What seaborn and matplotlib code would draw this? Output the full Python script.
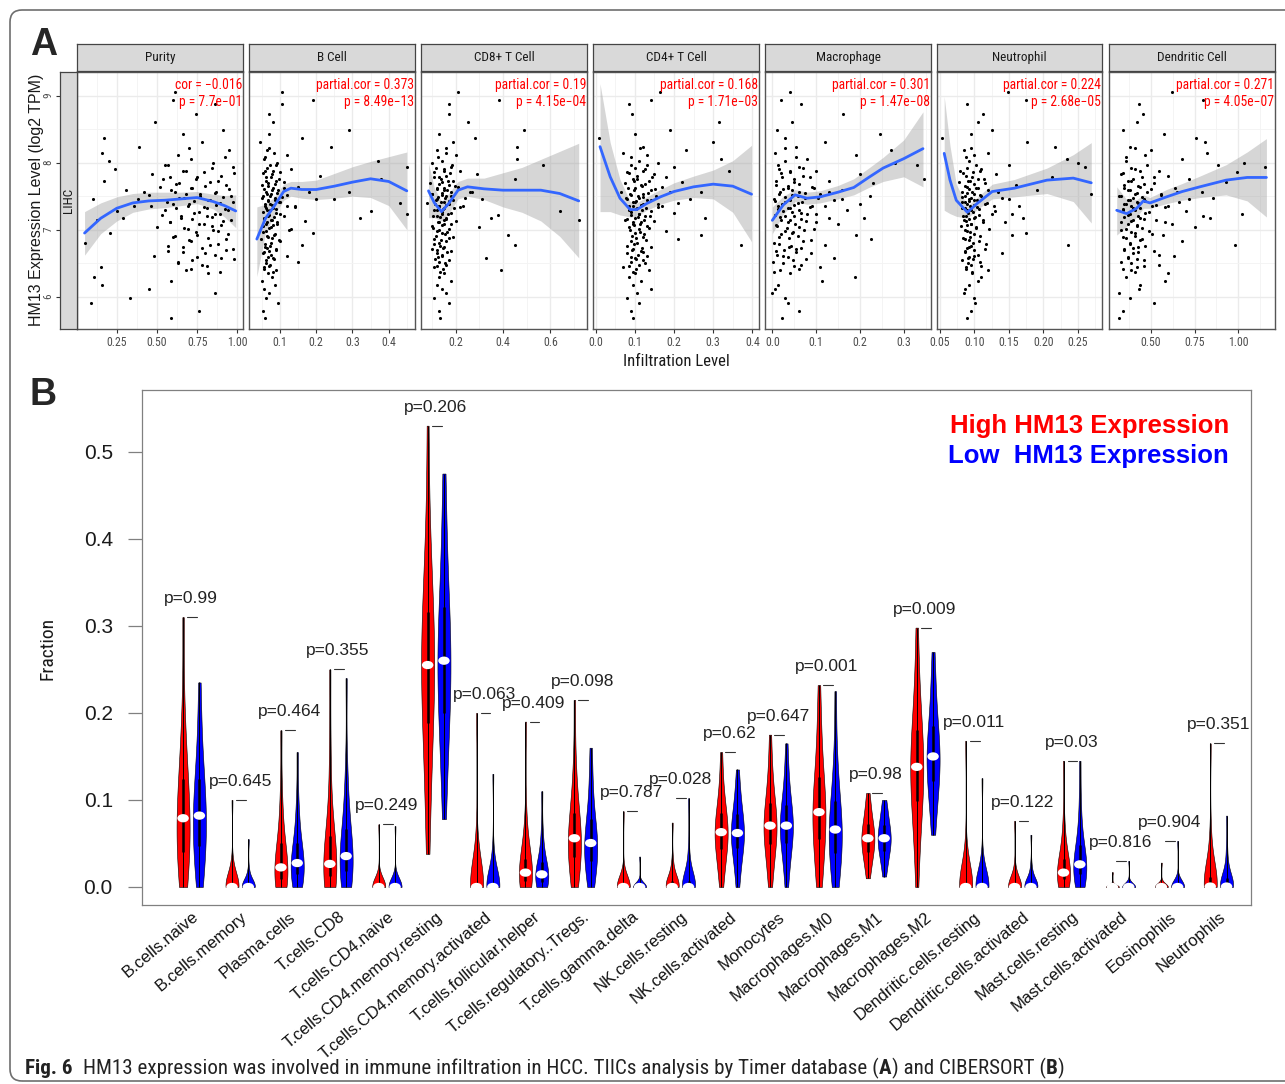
import os
import numpy as np
import pandas as pd
import matplotlib
matplotlib.use("Agg")
import matplotlib.pyplot as plt
import seaborn as sns
from matplotlib import font_manager, transforms, ticker
from matplotlib.patches import Ellipse, FancyBboxPatch

# ---------------- panel A data (TIMER) ----------------
facet_names = ["Purity", "B Cell", "CD8+ T Cell", "CD4+ T Cell",
               "Macrophage", "Neutrophil", "Dendritic Cell"]
cor_text = [("cor = \u22120.016", "p = 7.7e\u221201"),
            ("partial.cor = 0.373", "p = 8.49e\u221213"),
            ("partial.cor = 0.19", "p = 4.15e\u221204"),
            ("partial.cor = 0.168", "p = 1.71e\u221203"),
            ("partial.cor = 0.301", "p = 1.47e\u221208"),
            ("partial.cor = 0.224", "p = 2.68e\u221205"),
            ("partial.cor = 0.271", "p = 4.05e\u221207")]

# HM13 expression (log2 TPM), the same samples in every facet
y_expr = [9.05, 8.93, 8.88, 8.72, 8.61, 8.49, 8.43, 8.37, 8.31, 8.24,
          8.19, 8.14, 8.11, 8.06, 8.02, 7.99, 7.96, 7.93, 7.91, 7.88,
          7.86, 7.83, 7.80, 7.78, 7.76, 7.73, 7.71, 7.69, 7.66, 7.64,
          7.62, 7.60, 7.57, 7.56, 7.54, 7.52, 7.50, 7.48, 7.46, 7.44,
          7.42, 7.40, 7.38, 7.36, 7.34, 7.32, 7.30, 7.28, 7.25, 7.24,
          7.22, 7.20, 7.17, 7.15, 7.13, 7.11, 7.08, 7.06, 7.04, 7.01,
          6.98, 6.95, 6.92, 6.89, 6.86, 6.83, 6.80, 6.77, 6.74, 6.71,
          6.68, 6.65, 6.61, 6.58, 6.55, 6.52, 6.48, 6.44, 6.40, 6.35,
          6.30, 6.24, 6.18, 6.12, 6.05, 5.98, 5.90, 5.78, 5.68,
          8.22, 8.08, 7.97, 7.92, 7.87, 7.84, 7.79, 7.75, 7.72, 7.68,
          7.65, 7.63, 7.61, 7.59, 7.55, 7.53, 7.51, 7.49, 7.47, 7.45,
          7.43, 7.41, 7.39, 7.37, 7.35, 7.33, 7.31, 7.29, 7.27, 7.23,
          7.21, 7.19, 7.16, 7.14, 7.12, 7.09, 7.07, 7.03, 7.00, 6.97,
          6.94, 6.90, 6.87, 6.84, 6.79, 6.76, 6.72, 6.69, 6.66, 6.62,
          6.59, 6.56, 6.50, 6.46, 6.42, 6.37, 7.57, 7.46, 7.35, 7.18]

x_purity = [0.61, 0.60, 0.86, 0.74, 0.49, 0.91, 0.66, 0.17, 0.78, 0.39,
            0.95, 0.16, 0.63, 0.71, 0.20, 0.85, 0.55, 0.97, 0.24, 0.68,
            0.79, 0.47, 0.90, 0.58, 0.74, 0.17, 0.83, 0.64, 0.93, 0.52,
            0.72, 0.31, 0.87, 0.61, 0.77, 0.45, 0.96, 0.67, 0.10, 0.82,
            0.56, 0.89, 0.70, 0.36, 0.79, 0.62, 0.94, 0.25, 0.73, 0.86,
            0.53, 0.81, 0.65, 0.13, 0.91, 0.58, 0.76, 0.84, 0.50, 0.69,
            0.88, 0.21, 0.75, 0.60, 0.93, 0.71, 0.05, 0.83, 0.66, 0.97,
            0.57, 0.80, 0.48, 0.90, 0.72, 0.63, 0.78, 0.15, 0.68, 0.82,
            0.11, 0.59, 0.16, 0.45, 0.86, 0.33, 0.09, 0.76, 0.59,
            0.70, 0.92, 0.57, 0.84, 0.66, 0.98, 0.75, 0.54, 0.88, 0.62,
            0.80, 0.71, 0.95, 0.59, 0.86, 0.68, 0.77, 0.91, 0.64, 0.83,
            0.73, 0.97, 0.60, 0.87, 0.69, 0.81, 0.92, 0.55, 0.76, 0.89,
            0.65, 0.84, 0.72, 0.96, 0.58, 0.79, 0.90, 0.67, 0.85, 0.74,
            0.94, 0.61, 0.82, 0.70, 0.88, 0.57, 0.78, 0.93, 0.66, 0.86,
            0.75, 0.98, 0.63, 0.81, 0.71, 0.89, 0.42, 0.38, 0.46, 0.29]
x_bcell = [0.105, 0.19, 0.106, 0.07, 0.08, 0.29, 0.07, 0.16, 0.046, 0.24,
           0.065, 0.083, 0.12, 0.055, 0.37, 0.092, 0.071, 0.45, 0.13, 0.058,
           0.10, 0.077, 0.21, 0.062, 0.38, 0.088, 0.11, 0.068, 0.05, 0.15,
           0.08, 0.095, 0.29, 0.06, 0.074, 0.12, 0.054, 0.086, 0.20, 0.066,
           0.099, 0.43, 0.072, 0.058, 0.14, 0.081, 0.063, 0.35, 0.09, 0.45,
           0.069, 0.11, 0.056, 0.078, 0.17, 0.064, 0.093, 0.052, 0.075, 0.13,
           0.06, 0.19, 0.084, 0.067, 0.048, 0.10, 0.076, 0.16, 0.059, 0.089,
           0.07, 0.053, 0.12, 0.08, 0.062, 0.15, 0.073, 0.057, 0.09, 0.066,
           0.079, 0.05, 0.085, 0.055, 0.07, 0.061, 0.095, 0.052, 0.059,
           0.07, 0.058, 0.09, 0.064, 0.082, 0.052, 0.075, 0.098, 0.061, 0.087,
           0.068, 0.11, 0.056, 0.079, 0.093, 0.063, 0.072, 0.105, 0.05, 0.085,
           0.067, 0.096, 0.059, 0.077, 0.118, 0.062, 0.088, 0.071, 0.054, 0.10,
           0.066, 0.083, 0.057, 0.074, 0.092, 0.06, 0.08, 0.069, 0.125, 0.053,
           0.086, 0.065, 0.078, 0.097, 0.058, 0.072, 0.063, 0.09, 0.055, 0.076,
           0.068, 0.084, 0.061, 0.07, 0.057, 0.081, 0.18, 0.25, 0.14, 0.32]
x_cd8 = [0.21, 0.385, 0.17, 0.17, 0.25, 0.49, 0.13, 0.28, 0.19, 0.46,
         0.12, 0.16, 0.20, 0.46, 0.14, 0.10, 0.57, 0.18, 0.15, 0.22,
         0.11, 0.29, 0.16, 0.13, 0.45, 0.19, 0.14, 0.09, 0.17, 0.21,
         0.12, 0.15, 0.27, 0.18, 0.10, 0.14, 0.16, 0.24, 0.12, 0.19,
         0.15, 0.08, 0.17, 0.13, 0.22, 0.15, 0.11, 0.64, 0.18, 0.14,
         0.38, 0.12, 0.16, 0.72, 0.20, 0.13, 0.15, 0.10, 0.30, 0.17,
         0.12, 0.14, 0.42, 0.19, 0.11, 0.16, 0.13, 0.45, 0.15, 0.10,
         0.18, 0.12, 0.14, 0.33, 0.17, 0.13, 0.16, 0.11, 0.39, 0.15,
         0.13, 0.18, 0.12, 0.14, 0.16, 0.11, 0.17, 0.13, 0.134,
         0.158, 0.127, 0.186, 0.118, 0.149, 0.176, 0.108, 0.139, 0.167, 0.131,
         0.197, 0.152, 0.121, 0.163, 0.142, 0.098, 0.181, 0.126, 0.154, 0.116,
         0.171, 0.137, 0.112, 0.161, 0.129, 0.191, 0.147, 0.119, 0.144, 0.169,
         0.106, 0.133, 0.157, 0.151, 0.124, 0.178, 0.141, 0.102, 0.128, 0.162,
         0.153, 0.117, 0.172, 0.138, 0.109, 0.132, 0.148, 0.122, 0.164, 0.143,
         0.126, 0.113, 0.156, 0.119, 0.146, 0.135, 0.26, 0.31, 0.23, 0.35]
x_cd4 = [0.164, 0.14, 0.085, 0.092, 0.315, 0.19, 0.10, 0.0085, 0.30, 0.12,
         0.23, 0.07, 0.13, 0.32, 0.11, 0.16, 0.09, 0.20, 0.125, 0.34,
         0.08, 0.15, 0.105, 0.18, 0.095, 0.135, 0.22, 0.075, 0.115, 0.17,
         0.10, 0.14, 0.065, 0.27, 0.12, 0.09, 0.155, 0.11, 0.08, 0.13,
         0.10, 0.21, 0.12, 0.095, 0.16, 0.105, 0.085, 0.14, 0.20, 0.11,
         0.09, 0.125, 0.10, 0.075, 0.15, 0.115, 0.095, 0.13, 0.085, 0.11,
         0.18, 0.10, 0.269, 0.12, 0.21, 0.09, 0.105, 0.37, 0.14, 0.095,
         0.115, 0.08, 0.13, 0.10, 0.12, 0.09, 0.11, 0.07, 0.135, 0.10,
         0.085, 0.115, 0.095, 0.14, 0.105, 0.08, 0.11, 0.09, 0.094,
         0.112, 0.091, 0.131, 0.101, 0.122, 0.086, 0.143, 0.106, 0.097, 0.127,
         0.117, 0.082, 0.152, 0.099, 0.133, 0.088, 0.109, 0.121, 0.077, 0.141,
         0.104, 0.094, 0.158, 0.116, 0.084, 0.128, 0.102, 0.119, 0.089, 0.111,
         0.138, 0.107, 0.081, 0.124, 0.096, 0.114, 0.098, 0.136, 0.087, 0.113,
         0.123, 0.092, 0.103, 0.129, 0.099, 0.079, 0.118, 0.093, 0.121, 0.108,
         0.091, 0.102, 0.126, 0.086, 0.104, 0.096, 0.19, 0.24, 0.17, 0.28]
x_macro = [0.04, 0.02, 0.066, 0.161, 0.045, 0.01, 0.247, 0.03, 0.12, 0.055,
           0.27, 0.005, 0.19, 0.08, 0.028, 0.28, 0.33, 0.06, 0.015, 0.10,
           0.04, 0.20, 0.07, 0.022, 0.346, 0.13, 0.05, 0.23, 0.008, 0.09,
           0.035, 0.16, 0.062, 0.018, 0.11, 0.045, 0.224, 0.075, 0.003, 0.14,
           0.03, 0.058, 0.20, 0.012, 0.085, 0.04, 0.17, 0.025, 0.065, 0.10,
           0.006, 0.05, 0.13, 0.02, 0.078, 0.035, 0.15, 0.01, 0.06, 0.095,
           0.028, 0.045, 0.192, 0.015, 0.225, 0.07, 0.004, 0.12, 0.038, 0.055,
           0.009, 0.088, 0.025, 0.14, 0.048, 0.002, 0.066, 0.11, 0.018, 0.04,
           0.188, 0.114, 0.012, 0.005, 0.0, 0.03, 0.035, 0.06, 0.021,
           0.03, 0.055, 0.012, 0.07, 0.04, 0.02, 0.085, 0.05, 0.008, 0.062,
           0.035, 0.095, 0.025, 0.045, 0.075, 0.015, 0.058, 0.03, 0.105, 0.04,
           0.005, 0.068, 0.022, 0.05, 0.09, 0.035, 0.012, 0.06, 0.045, 0.08,
           0.028, 0.018, 0.065, 0.04, 0.10, 0.052, 0.008, 0.033, 0.072, 0.047,
           0.02, 0.058, 0.038, 0.088, 0.015, 0.043, 0.066, 0.027, 0.053, 0.01,
           0.036, 0.078, 0.024, 0.049, 0.062, 0.003, 0.13, 0.16, 0.12, 0.21]
x_neutro = [0.149, 0.175, 0.089, 0.112, 0.105, 0.125, 0.095, 0.054, 0.176, 0.217,
            0.085, 0.12, 0.10, 0.234, 0.092, 0.25, 0.15, 0.26, 0.11, 0.08,
            0.098, 0.132, 0.088, 0.213, 0.105, 0.094, 0.078, 0.115, 0.16, 0.09,
            0.102, 0.19, 0.083, 0.097, 0.268, 0.108, 0.087, 0.14, 0.093, 0.10,
            0.082, 0.118, 0.09, 0.165, 0.104, 0.086, 0.096, 0.13, 0.091, 0.155,
            0.107, 0.084, 0.099, 0.112, 0.088, 0.145, 0.095, 0.081, 0.103, 0.122,
            0.09, 0.175, 0.155, 0.094, 0.086, 0.107, 0.098, 0.235, 0.092, 0.115,
            0.087, 0.14, 0.10, 0.091, 0.083, 0.109, 0.095, 0.088, 0.12, 0.097,
            0.11, 0.105, 0.093, 0.087, 0.085, 0.10, 0.101, 0.095, 0.089,
            0.095, 0.088, 0.102, 0.09, 0.108, 0.084, 0.097, 0.114, 0.091, 0.10,
            0.086, 0.105, 0.093, 0.12, 0.089, 0.099, 0.11, 0.083, 0.096, 0.104,
            0.092, 0.087, 0.115, 0.10, 0.094, 0.082, 0.107, 0.09, 0.098, 0.125,
            0.088, 0.101, 0.093, 0.085, 0.112, 0.096, 0.09, 0.103, 0.087, 0.094,
            0.099, 0.108, 0.084, 0.092, 0.117, 0.095, 0.089, 0.10, 0.086, 0.106,
            0.093, 0.098, 0.091, 0.11, 0.088, 0.097, 0.135, 0.15, 0.128, 0.17]
x_dc = [0.62, 0.80, 0.435, 0.455, 0.42, 0.343, 0.576, 0.757, 0.81, 0.38,
        0.50, 0.82, 0.47, 0.68, 0.36, 1.03, 0.884, 1.15, 0.41, 0.55,
        0.99, 0.33, 0.60, 0.45, 0.72, 0.39, 0.93, 0.52, 0.35, 0.44,
        0.64, 0.37, 0.48, 0.79, 0.41, 0.56, 0.32, 0.854, 0.46, 0.38,
        0.66, 0.43, 0.35, 0.51, 0.58, 0.40, 0.34, 0.70, 0.47, 1.02,
        0.37, 0.80, 0.44, 0.53, 0.39, 0.33, 0.62, 0.42, 0.75, 0.36,
        0.49, 0.41, 0.57, 0.34, 0.45, 0.68, 0.38, 0.98, 0.43, 0.35,
        0.52, 0.40, 0.63, 0.37, 0.46, 0.33, 0.55, 0.42, 0.39, 0.60,
        0.36, 0.58, 0.44, 0.435, 0.32, 0.38, 0.52, 0.34, 0.32,
        0.41, 0.36, 0.48, 0.39, 0.44, 0.34, 0.52, 0.40, 0.37, 0.46,
        0.43, 0.35, 0.50, 0.38, 0.42, 0.56, 0.33, 0.45, 0.40, 0.37,
        0.47, 0.42, 0.36, 0.53, 0.39, 0.44, 0.34, 0.41, 0.49, 0.38,
        0.43, 0.35, 0.46, 0.40, 0.58, 0.37, 0.42, 0.45, 0.33, 0.39,
        0.51, 0.41, 0.36, 0.44, 0.38, 0.47, 0.40, 0.35, 0.43, 0.55,
        0.37, 0.42, 0.39, 0.46, 0.34, 0.41, 0.65, 0.72, 0.60, 0.84]

# loess fits: x, fit, lower, upper
fit_purity = ([0.05, 0.15, 0.25, 0.35, 0.45, 0.55, 0.65, 0.75, 0.85, 0.92, 0.99],
              [6.95, 7.17, 7.32, 7.40, 7.43, 7.44, 7.46, 7.48, 7.42, 7.36, 7.28],
              [6.62, 6.94, 7.13, 7.26, 7.31, 7.33, 7.36, 7.39, 7.31, 7.19, 7.03],
              [7.27, 7.40, 7.49, 7.54, 7.56, 7.56, 7.56, 7.57, 7.53, 7.51, 7.52])
fit_bcell = ([0.036, 0.06, 0.085, 0.11, 0.13, 0.16, 0.2, 0.25, 0.3, 0.35, 0.4, 0.45],
             [6.86, 7.17, 7.36, 7.57, 7.62, 7.60, 7.60, 7.65, 7.71, 7.76, 7.72, 7.58],
             [6.30, 6.96, 7.22, 7.44, 7.50, 7.47, 7.45, 7.47, 7.50, 7.48, 7.36, 7.00],
             [7.34, 7.38, 7.49, 7.68, 7.72, 7.72, 7.74, 7.84, 7.94, 8.02, 8.09, 8.16])
fit_cd8 = ([0.085, 0.11, 0.14, 0.17, 0.21, 0.25, 0.32, 0.4, 0.48, 0.56, 0.64, 0.72],
           [7.58, 7.40, 7.27, 7.39, 7.59, 7.64, 7.61, 7.59, 7.59, 7.59, 7.54, 7.43],
           [7.18, 7.18, 7.13, 7.24, 7.46, 7.50, 7.45, 7.34, 7.26, 7.13, 6.90, 6.58],
           [7.99, 7.62, 7.42, 7.54, 7.72, 7.77, 7.77, 7.85, 7.93, 8.05, 8.17, 8.29])
fit_cd4 = ([0.011, 0.037, 0.062, 0.088, 0.105, 0.13, 0.165, 0.2, 0.25, 0.3, 0.35, 0.398],
           [8.24, 7.79, 7.47, 7.30, 7.30, 7.39, 7.49, 7.57, 7.64, 7.68, 7.65, 7.53],
           [7.27, 7.27, 7.22, 7.19, 7.20, 7.29, 7.38, 7.44, 7.48, 7.46, 7.26, 6.82],
           [9.18, 8.30, 7.75, 7.42, 7.40, 7.49, 7.60, 7.70, 7.80, 7.89, 8.03, 8.26])
fit_macro = ([0.0, 0.025, 0.052, 0.079, 0.109, 0.15, 0.186, 0.22, 0.253, 0.3, 0.344],
             [7.14, 7.37, 7.52, 7.47, 7.49, 7.56, 7.63, 7.78, 7.92, 8.06, 8.21],
             [6.94, 7.23, 7.42, 7.38, 7.40, 7.46, 7.52, 7.63, 7.72, 7.79, 7.64],
             [7.34, 7.50, 7.60, 7.56, 7.58, 7.66, 7.76, 7.92, 8.08, 8.34, 8.76])
fit_neutro = ([0.0566, 0.065, 0.074, 0.09, 0.104, 0.126, 0.158, 0.205, 0.243, 0.269],
              [8.14, 7.74, 7.44, 7.26, 7.39, 7.57, 7.62, 7.74, 7.77, 7.70],
              [7.29, 7.24, 7.20, 7.17, 7.30, 7.46, 7.49, 7.54, 7.42, 7.10],
              [8.99, 8.25, 7.68, 7.35, 7.48, 7.68, 7.75, 7.92, 8.12, 8.30])
fit_dc = ([0.306, 0.363, 0.42, 0.458, 0.496, 0.59, 0.68, 0.78, 0.93, 1.05, 1.16],
          [7.29, 7.24, 7.32, 7.43, 7.40, 7.49, 7.57, 7.64, 7.74, 7.78, 7.78],
          [6.92, 7.05, 7.19, 7.32, 7.32, 7.39, 7.44, 7.48, 7.52, 7.43, 7.19],
          [7.64, 7.45, 7.45, 7.52, 7.48, 7.60, 7.69, 7.80, 7.97, 8.16, 8.36])

# ---------------- panel B data (CIBERSORT) ----------------
cell_types = ["B.cells.naive", "B.cells.memory", "Plasma.cells", "T.cells.CD8",
              "T.cells.CD4.naive", "T.cells.CD4.memory.resting",
              "T.cells.CD4.memory.activated", "T.cells.follicular.helper",
              "T.cells.regulatory..Tregs.", "T.cells.gamma.delta",
              "NK.cells.resting", "NK.cells.activated", "Monocytes",
              "Macrophages.M0", "Macrophages.M1", "Macrophages.M2",
              "Dendritic.cells.resting", "Dendritic.cells.activated",
              "Mast.cells.resting", "Mast.cells.activated", "Eosinophils",
              "Neutrophils"]
p_values = ["0.99", "0.645", "0.464", "0.355", "0.249", "0.206", "0.063",
            "0.409", "0.098", "0.787", "0.028", "0.62", "0.647", "0.001",
            "0.98", "0.009", "0.011", "0.122", "0.03", "0.816", "0.904", "0.351"]

high_frac = [
    [0.0, 0.008, 0.02, 0.032, 0.043, 0.055, 0.066, 0.075, 0.083, 0.094, 0.106, 0.12, 0.138, 0.16, 0.2, 0.31],
    [0, 0, 0, 0, 0, 0, 0, 0, 0, 0, 0.001, 0.003, 0.006, 0.012, 0.025, 0.1],
    [0, 0, 0.002, 0.006, 0.01, 0.014, 0.017, 0.02, 0.025, 0.031, 0.038, 0.047, 0.06, 0.08, 0.11, 0.18],
    [0, 0.001, 0.004, 0.009, 0.014, 0.019, 0.023, 0.025, 0.028, 0.034, 0.042, 0.054, 0.072, 0.1, 0.16, 0.25],
    [0, 0, 0, 0, 0, 0, 0, 0, 0, 0, 0, 0, 0, 0.002, 0.008, 0.072],
    [0.038, 0.09, 0.14, 0.17, 0.195, 0.215, 0.235, 0.25, 0.26, 0.275, 0.29, 0.31, 0.335, 0.365, 0.41, 0.53],
    [0, 0, 0, 0, 0, 0, 0, 0, 0, 0, 0.001, 0.003, 0.008, 0.02, 0.05, 0.2],
    [0, 0, 0.002, 0.005, 0.008, 0.011, 0.014, 0.016, 0.017, 0.02, 0.024, 0.03, 0.038, 0.05, 0.08, 0.19],
    [0, 0.008, 0.018, 0.028, 0.036, 0.043, 0.05, 0.054, 0.058, 0.064, 0.072, 0.082, 0.095, 0.115, 0.145, 0.215],
    [0, 0, 0, 0, 0, 0, 0, 0, 0, 0, 0, 0, 0, 0.002, 0.01, 0.087],
    [0, 0, 0, 0, 0, 0, 0, 0, 0, 0.001, 0.003, 0.006, 0.01, 0.016, 0.03, 0.074],
    [0, 0.015, 0.028, 0.038, 0.046, 0.052, 0.057, 0.061, 0.065, 0.07, 0.076, 0.083, 0.092, 0.104, 0.122, 0.155],
    [0, 0.018, 0.032, 0.043, 0.052, 0.06, 0.066, 0.069, 0.072, 0.078, 0.085, 0.094, 0.105, 0.12, 0.14, 0.175],
    [0, 0.012, 0.03, 0.045, 0.058, 0.07, 0.079, 0.084, 0.088, 0.097, 0.108, 0.122, 0.138, 0.16, 0.19, 0.232],
    [0.01, 0.022, 0.03, 0.037, 0.042, 0.047, 0.051, 0.055, 0.057, 0.061, 0.066, 0.071, 0.077, 0.085, 0.095, 0.108],
    [0, 0.045, 0.07, 0.088, 0.102, 0.114, 0.125, 0.134, 0.142, 0.152, 0.163, 0.176, 0.192, 0.212, 0.245, 0.298],
    [0, 0, 0, 0, 0, 0, 0, 0, 0, 0, 0.001, 0.003, 0.007, 0.015, 0.04, 0.168],
    [0, 0, 0, 0, 0, 0, 0, 0, 0, 0, 0, 0.001, 0.003, 0.008, 0.02, 0.076],
    [0, 0, 0.003, 0.007, 0.01, 0.013, 0.015, 0.016, 0.017, 0.02, 0.024, 0.03, 0.038, 0.05, 0.075, 0.145],
    [0, 0, 0, 0, 0, 0, 0, 0, 0, 0, 0, 0, 0, 0, 0.003, 0.017],
    [0, 0, 0, 0, 0, 0, 0, 0, 0, 0, 0, 0, 0, 0, 0.004, 0.028],
    [0, 0, 0, 0, 0, 0, 0, 0, 0.001, 0.003, 0.006, 0.01, 0.018, 0.03, 0.06, 0.165],
]
low_frac = [
    [0.0, 0.012, 0.025, 0.038, 0.05, 0.06, 0.07, 0.078, 0.086, 0.096, 0.108, 0.12, 0.136, 0.155, 0.19, 0.235],
    [0, 0, 0, 0, 0, 0, 0, 0, 0, 0, 0, 0.002, 0.004, 0.009, 0.018, 0.055],
    [0, 0.002, 0.006, 0.011, 0.016, 0.02, 0.024, 0.026, 0.029, 0.034, 0.04, 0.048, 0.06, 0.078, 0.1, 0.155],
    [0, 0.003, 0.008, 0.014, 0.02, 0.026, 0.031, 0.034, 0.037, 0.043, 0.05, 0.062, 0.08, 0.105, 0.135, 0.24],
    [0, 0, 0, 0, 0, 0, 0, 0, 0, 0, 0, 0, 0, 0.001, 0.006, 0.07],
    [0.078, 0.125, 0.16, 0.185, 0.205, 0.225, 0.24, 0.255, 0.265, 0.28, 0.295, 0.315, 0.34, 0.37, 0.42, 0.475],
    [0, 0, 0, 0, 0, 0, 0, 0, 0, 0, 0.001, 0.003, 0.007, 0.015, 0.04, 0.13],
    [0, 0, 0.002, 0.004, 0.007, 0.01, 0.012, 0.014, 0.015, 0.018, 0.022, 0.027, 0.034, 0.045, 0.065, 0.11],
    [0, 0.007, 0.016, 0.025, 0.032, 0.039, 0.045, 0.049, 0.052, 0.058, 0.066, 0.075, 0.088, 0.105, 0.13, 0.16],
    [0, 0, 0, 0, 0, 0, 0, 0, 0, 0, 0, 0, 0, 0, 0.004, 0.035],
    [0, 0, 0, 0, 0, 0, 0, 0, 0, 0.001, 0.003, 0.006, 0.011, 0.02, 0.04, 0.102],
    [0, 0.016, 0.029, 0.039, 0.046, 0.052, 0.057, 0.06, 0.064, 0.069, 0.075, 0.082, 0.09, 0.1, 0.115, 0.135],
    [0, 0.02, 0.034, 0.045, 0.053, 0.06, 0.066, 0.069, 0.072, 0.077, 0.084, 0.092, 0.102, 0.116, 0.135, 0.165],
    [0, 0.008, 0.02, 0.032, 0.042, 0.051, 0.059, 0.064, 0.068, 0.075, 0.084, 0.095, 0.11, 0.13, 0.16, 0.225],
    [0.012, 0.024, 0.032, 0.038, 0.043, 0.048, 0.052, 0.055, 0.057, 0.061, 0.065, 0.07, 0.076, 0.083, 0.091, 0.1],
    [0.06, 0.085, 0.1, 0.113, 0.124, 0.134, 0.142, 0.148, 0.152, 0.16, 0.17, 0.182, 0.196, 0.214, 0.24, 0.27],
    [0, 0, 0, 0, 0, 0, 0, 0, 0, 0, 0.001, 0.003, 0.006, 0.012, 0.03, 0.125],
    [0, 0, 0, 0, 0, 0, 0, 0, 0, 0.001, 0.002, 0.004, 0.007, 0.012, 0.025, 0.06],
    [0, 0.002, 0.007, 0.012, 0.016, 0.02, 0.023, 0.025, 0.027, 0.031, 0.037, 0.045, 0.056, 0.072, 0.1, 0.145],
    [0, 0, 0, 0, 0, 0, 0, 0, 0, 0, 0, 0, 0, 0, 0.005, 0.03],
    [0, 0, 0, 0, 0, 0, 0, 0, 0, 0, 0, 0, 0, 0, 0.006, 0.053],
    [0, 0, 0, 0, 0, 0, 0, 0, 0.001, 0.003, 0.005, 0.009, 0.015, 0.025, 0.045, 0.082],
]

# ---------------- fonts ----------------
W, H = 1285, 1084
sns.set_theme(style="white")
plt.rcParams["font.family"] = ["Liberation Sans", "DejaVu Sans"]


def pick_font(bold):
    prefs = ["liberationsansnarrow", "robotocondensed", "dejavusanscondensed",
             "notosanscondensed", "opensanscondensed"]
    skip = ("light", "thin", "medium", "black", "semi", "extra", "italic", "oblique")
    files = [f.fname for f in font_manager.fontManager.ttflist]
    for p in prefs:
        for fn in files:
            b = os.path.basename(fn).lower().replace("_", "").replace(" ", "")
            if b.startswith(p) and ("bold" in b) == bold and not any(s in b for s in skip):
                return font_manager.FontProperties(fname=fn)
    return font_manager.FontProperties(family="Roboto", weight="bold" if bold else "normal")


NARROW_R = pick_font(False)
NARROW_B = pick_font(True)


def nf(size, bold=False):
    p = (NARROW_B if bold else NARROW_R).copy()
    p.set_size(size)
    return p


def box(l, t, r, b):
    # pixel box (top-left origin) -> figure fraction rect
    return [l / W, 1 - b / H, (r - l) / W, (b - t) / H]


fig = plt.figure(figsize=(W / 100, H / 100), dpi=100)

# outer rounded frame
frame = FancyBboxPatch((10, 3), 1300, 1071, boxstyle="round,pad=0,rounding_size=12",
                       transform=transforms.IdentityTransform(), facecolor="none",
                       edgecolor="#6e6e6e", lw=1.2)
fig.patches.append(frame)

# ---- panel A ----
A_TOP, A_BOT = 72, 329
YLIM_A = (5.518, 9.354)
facet_x = [x_purity, x_bcell, x_cd8, x_cd4, x_macro, x_neutro, x_dc]
facet_fit = [fit_purity, fit_bcell, fit_cd8, fit_cd4, fit_macro, fit_neutro, fit_dc]
facet_px = [(77, 243), (249, 415), (421, 587), (593, 759), (765, 931), (937, 1102), (1109, 1275)]
facet_xlim = [(0.003, 1.035), (0.0144, 0.4726), (0.0533, 0.755), (-0.0069, 0.417),
              (-0.0167, 0.3623), (0.0462, 0.2845), (0.262, 1.209)]
facet_ticks = [([0.25, 0.5, 0.75, 1.0], ["0.25", "0.50", "0.75", "1.00"]),
               ([0.1, 0.2, 0.3, 0.4], ["0.1", "0.2", "0.3", "0.4"]),
               ([0.2, 0.4, 0.6], ["0.2", "0.4", "0.6"]),
               ([0.0, 0.1, 0.2, 0.3, 0.4], ["0.0", "0.1", "0.2", "0.3", "0.4"]),
               ([0.0, 0.1, 0.2, 0.3], ["0.0", "0.1", "0.2", "0.3"]),
               ([0.05, 0.10, 0.15, 0.20, 0.25], ["0.05", "0.10", "0.15", "0.20", "0.25"]),
               ([0.5, 0.75, 1.0], ["0.50", "0.75", "1.00"])]

for k, name in enumerate(facet_names):
    l, r = facet_px[k]
    ax = fig.add_axes(box(l, A_TOP, r, A_BOT))
    ax.set_facecolor("white")
    fx, ffit, flo, fhi = facet_fit[k]
    ax.fill_between(fx, flo, fhi, color="#999999", alpha=0.4, lw=0, zorder=2)
    sns.scatterplot(x=facet_x[k], y=y_expr, ax=ax, s=5, color="black",
                    linewidth=0, legend=False, zorder=3)
    ax.plot(fx, ffit, color="#3366FF", lw=2.0, zorder=4, solid_capstyle="round")
    ax.set_xlim(*facet_xlim[k])
    ax.set_ylim(*YLIM_A)
    ticks, labels = facet_ticks[k]
    ax.set_xticks(ticks)
    ax.set_xticklabels(labels, fontproperties=nf(8.5), color="#4D4D4D")
    ax.xaxis.set_minor_locator(ticker.AutoMinorLocator(2))
    ax.set_yticks([6, 7, 8, 9])
    ax.yaxis.set_minor_locator(ticker.AutoMinorLocator(2))
    ax.grid(True, which="major", color="#EBEBEB", lw=1.0)
    ax.grid(True, which="minor", color="#F3F3F3", lw=0.6)
    ax.set_axisbelow(True)
    ax.tick_params(axis="x", which="major", length=3, width=0.8, color="#333333", pad=2, bottom=True)
    ax.tick_params(axis="both", which="minor", length=0)
    ax.tick_params(axis="y", left=False, labelleft=False)
    ax.set_xlabel("")
    ax.set_ylabel("")
    for sp in ax.spines.values():
        sp.set_color("#555555")
        sp.set_linewidth(1.0)
    t1, t2 = cor_text[k]
    ax.text(0.995, (A_BOT - 85) / (A_BOT - A_TOP), t1, transform=ax.transAxes, ha="right",
            va="center", color="#FF0000", fontproperties=nf(9.8), zorder=5)
    ax.text(0.995, (A_BOT - 102) / (A_BOT - A_TOP), t2, transform=ax.transAxes, ha="right",
            va="center", color="#FF0000", fontproperties=nf(9.8), zorder=5)

    sax = fig.add_axes(box(l, 44, r, 71))
    sax.set_facecolor("#D9D9D9")
    sax.set_xticks([])
    sax.set_yticks([])
    for sp in sax.spines.values():
        sp.set_color("#444444")
        sp.set_linewidth(0.9)
    sax.text(0.5, 0.5, name, ha="center", va="center", fontproperties=nf(9.5),
             color="#1A1A1A")

# row strip "LIHC" carrying the y axis
lax = fig.add_axes(box(60, A_TOP, 77, A_BOT))
lax.set_facecolor("#D9D9D9")
lax.set_ylim(*YLIM_A)
lax.set_xticks([])
lax.set_yticks([6, 7, 8, 9])
lax.set_yticklabels(["6", "7", "8", "9"], rotation=90, va="center",
                    fontproperties=nf(8), color="#4D4D4D")
lax.tick_params(axis="y", length=3, width=0.8, color="#333333", pad=1.5, left=True)
for sp in lax.spines.values():
    sp.set_color("#444444")
    sp.set_linewidth(0.9)
lax.text(0.5, 0.5, "LIHC", rotation=90, ha="center", va="center", fontproperties=nf(9.5),
         color="#1A1A1A", transform=lax.transAxes)

fig.text(37 / W, 1 - 200 / H, "HM13 Expression Level (log2 TPM)", rotation=90,
         ha="center", va="center", fontsize=11.5, color="#1A1A1A")
fig.text(676 / W, 1 - 362 / H, "Infiltration Level", ha="center", va="center",
         fontproperties=nf(12), color="#1A1A1A")
fig.text(30 / W, 1 - 55 / H, "A", ha="left", va="baseline", fontsize=27, fontweight="bold")

# ---- panel B ----
rows = []
for i, cell in enumerate(cell_types):
    for v in high_frac[i]:
        rows.append((3 * i + 1, v, "High"))
    for v in low_frac[i]:
        rows.append((3 * i + 2, v, "Low"))
df_b = pd.DataFrame(rows, columns=["pos", "frac", "grp"])

axb = fig.add_axes(box(142, 390, 1251, 905))
sns.violinplot(data=df_b, x="pos", y="frac", hue="grp", hue_order=["High", "Low"],
               palette={"High": "#FF0000", "Low": "#0000FF"}, native_scale=True,
               dodge=False, density_norm="width", cut=0, inner=None, width=0.8,
               linewidth=0.4, linecolor="black", saturation=1, legend=False, ax=axb)

for i, cell in enumerate(cell_types):
    for vals, pos in ((high_frac[i], 3 * i + 1), (low_frac[i], 3 * i + 2)):
        arr = np.asarray(vals, dtype=float)
        q1, med, q3 = np.percentile(arr, [25, 50, 75])
        axb.vlines(pos, arr.min(), arr.max(), color="black", lw=0.7, zorder=3)
        axb.vlines(pos, q1, q3, color="black", lw=1.8, zorder=3)
        axb.add_patch(Ellipse((pos, med), 0.7, 0.0095, facecolor="white",
                              edgecolor="none", zorder=4))
    top = max(max(high_frac[i]), max(low_frac[i]))
    axb.plot([3 * i + 1.25, 3 * i + 1.85], [top, top], color="#333333", lw=0.8, zorder=3)
    axb.text(3 * i + 1.5, top + 0.016, "p=" + p_values[i], ha="center", va="baseline",
             fontsize=12.5, color="#222222", zorder=5)

axb.set_xlim(-1.52, 66.5)
axb.set_ylim(-0.0207, 0.571)
axb.set_yticks([0, 0.1, 0.2, 0.3, 0.4, 0.5])
axb.set_yticklabels(["0.0", "0.1", "0.2", "0.3", "0.4", "0.5"], fontsize=15, color="#1A1A1A")
axb.set_xticks([3 * i + 1.5 for i in range(len(cell_types))])
axb.set_xticklabels(cell_types, rotation=40, ha="right", rotation_mode="anchor",
                    fontsize=12, color="#111111")
axb.tick_params(axis="y", length=10, width=0.9, color="#808080", pad=11, left=True)
axb.tick_params(axis="x", length=0, pad=3)
axb.set_xlabel("")
axb.set_ylabel("")
for sp in axb.spines.values():
    sp.set_color("#808080")
    sp.set_linewidth(0.9)

fig.text(47 / W, 1 - 648 / H, "Fraction", rotation=90, ha="center", va="center",
         fontproperties=nf(14), color="#1A1A1A")
fig.text(1229 / W, 1 - 433 / H, "High HM13 Expression", ha="right", va="baseline",
         color="#FF0000", fontsize=18.5, fontweight="bold")
fig.text(1229 / W, 1 - 463 / H, "Low  HM13 Expression", ha="right", va="baseline",
         color="#0000FF", fontsize=18.5, fontweight="bold")
fig.text(30 / W, 1 - 405 / H, "B", ha="left", va="baseline", fontsize=27, fontweight="bold")

# ---- caption, mixed bold / regular, fitted to the reference width ----
renderer = fig.canvas.get_renderer()
cap_pieces = [("Fig. 6", True, 10),
              ("HM13 expression was involved in immune infiltration in HCC. TIICs analysis by Timer database (", False, 0),
              ("A", True, 0), (") and CIBERSORT (", False, 0), ("B", True, 0), (")", False, 0)]


def draw_caption(size, keep):
    x_cur = 25
    made = []
    for txt, bold, gap in cap_pieces:
        t = fig.text(x_cur / W, 1 - 1074 / H, txt, ha="left", va="baseline",
                     fontproperties=nf(size, bold), color="#222222")
        x_cur += t.get_window_extent(renderer).width + gap * size / 14
        made.append(t)
    if not keep:
        for t in made:
            t.remove()
    return x_cur - 25


cap_w = draw_caption(14, keep=False)
draw_caption(min(17, 14 * 1045 / cap_w), keep=True)

fig.savefig("out.png", dpi=100)
